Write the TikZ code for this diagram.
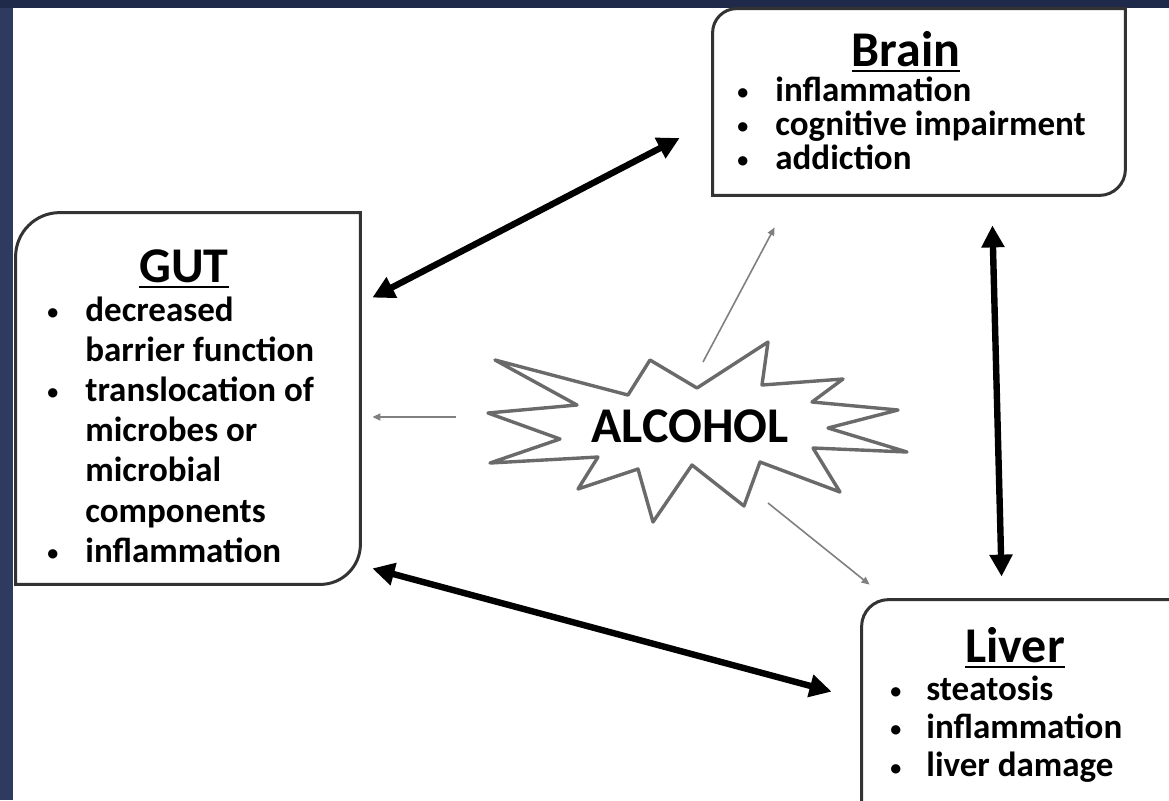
\documentclass[tikz,border=0pt]{standalone}
\usepackage{fontspec}
\setmainfont{Carlito}
\usepackage{tikz}
\usetikzlibrary{positioning,arrows.meta}
\definecolor{navy}{HTML}{1F2A4B}
\definecolor{navyside}{HTML}{2E3B5E}
\definecolor{rimgray}{HTML}{333333}
\definecolor{burstgray}{HTML}{6A6A6A}
\newcommand{\headline}[1]{\setbox0\hbox{#1}\rlap{\rule[-3.2pt]{\wd0}{1.4pt}}\box0}
\newcommand{\bul}{{\fontsize{11}{11}\selectfont\raisebox{0.8pt}{\textbullet}}}
\newcommand{\itm}{\makebox[19pt][l]{\bul}}
\newcommand{\ind}{\hspace*{19pt}}

\begin{document}
\begin{tikzpicture}[x=0.5pt,y=-0.5pt,
frame/.style={rectangle,inner sep=0pt},
rim/.style={draw=rimgray,line width=1.5pt},
head/.style={font=\fontsize{25}{28}\selectfont\bfseries,inner sep=0pt,anchor=base},
lst/.style={font=\fontsize{17.5}{20}\selectfont\bfseries,inner sep=0pt,anchor=base west},
burst/.style={draw=burstgray,line width=1.7pt,line join=round},
dbl/.style={{Triangle[length=11pt,width=11pt]}-{Triangle[length=11pt,width=11pt]},line width=3.2pt},
effect/.style={-{Triangle[length=4pt,width=3.5pt]},draw=gray,line width=0.8pt}]
\useasboundingbox (0,0) rectangle (1169,800);
\fill[white] (0,0) rectangle (1169,800);
\fill[navyside] (0,0) rectangle (13,800);
\fill[navy] (0,0) rectangle (1169,8);

% box outlines
\node[frame,minimum width=206pt,minimum height=93pt](brain) at (919,102){};
\node[frame,minimum width=172pt,minimum height=185.5pt](gut) at (188,398.5){};
\node[frame,minimum width=169pt,minimum height=120pt](liver) at (1031,720){};
\draw[rim] (brain.south west) -- ([yshift=-12pt]brain.north west) .. controls ([yshift=-5.4pt]brain.north west) and ([xshift=5.4pt]brain.north west) .. ([xshift=12pt]brain.north west)
  -- (brain.north east) -- ([yshift=13pt]brain.south east) .. controls ([yshift=5.8pt]brain.south east) and ([xshift=-5.8pt]brain.south east) .. ([xshift=-13pt]brain.south east) -- cycle;
\draw[rim] (gut.south west) -- ([yshift=-22pt]gut.north west) .. controls ([yshift=-9.9pt]gut.north west) and ([xshift=9.9pt]gut.north west) .. ([xshift=22pt]gut.north west)
  -- (gut.north east) -- ([yshift=20pt]gut.south east) .. controls ([yshift=9pt]gut.south east) and ([xshift=-9pt]gut.south east) .. ([xshift=-20pt]gut.south east) -- cycle;
\draw[rim] (liver.south west) -- ([yshift=-13.5pt]liver.north west) .. controls ([yshift=-6pt]liver.north west) and ([xshift=6pt]liver.north west) .. ([xshift=13.5pt]liver.north west) -- (liver.north east);

% texts
\node[head](brainT) at (906,66){\headline{Brain}};
\node[lst](brainL) at (737,101){\parbox[t]{200pt}{\lineskiplimit=-10pt\baselineskip=17pt
\itm inflammation\\ \itm cognitive impairment\\ \itm addiction}};
\node[head](gutT) at (184,282){\headline{GUT}};
\node[lst](gutL) at (47,321){\parbox[t]{160pt}{\lineskiplimit=-10pt\baselineskip=20.1pt
\itm decreased\\ \ind barrier function\\ \itm translocation of\\ \ind microbes or\\ \ind microbial\\ \ind components\\ \itm inflammation}};
\node[head](liverT) at (1015,662){\headline{Liver}};
\node[lst](liverL) at (890,700){\parbox[t]{150pt}{\lineskiplimit=-10pt\baselineskip=19.2pt
\makebox[18pt][l]{\bul}steatosis\\ \makebox[18pt][l]{\bul}inflammation\\ \makebox[18pt][l]{\bul}liver damage}};

% alcohol burst
\draw[burst] (495,360) -- (628,395) -- (650,360) -- (697,388) -- (768,342) -- (762,385) -- (843,379) -- (812,402)
  -- (898,410) -- (828,428) -- (907,452) -- (813,448) -- (840,492) -- (760,462) -- (744,506) -- (692,465)
  -- (653,522) -- (638,469) -- (578,489) -- (598,457) -- (490,463) -- (560,439) -- (488,413) -- (577,405) -- cycle;
\node[head](alc) at (690,442){ALCOHOL};

% connectors
\draw[dbl] ([shift={(6pt,-42.5pt)}]gut.north east) -- ([shift={(-16.5pt,-18pt)}]brain.west);
\draw[dbl] ([shift={(-66.5pt,-15pt)}]brain.south east) -- ([shift={(70pt,11.5pt)}]liver.north west);
\draw[dbl] ([shift={(6pt,8pt)}]gut.south east) -- ([shift={(-15pt,-46pt)}]liver.north west);
\draw[effect] ([shift={(6.5pt,40pt)}]alc.base) -- ([shift={(31pt,-16pt)}]brain.south west);
\draw[effect] ([shift={(-117pt,12.5pt)}]alc.base) -- ([shift={(6pt,-9.25pt)}]gut.east);
\draw[effect] ([shift={(39pt,-30.5pt)}]alc.base) -- ([shift={(4pt,7.5pt)}]liver.north west);
\end{tikzpicture}
\end{document}
